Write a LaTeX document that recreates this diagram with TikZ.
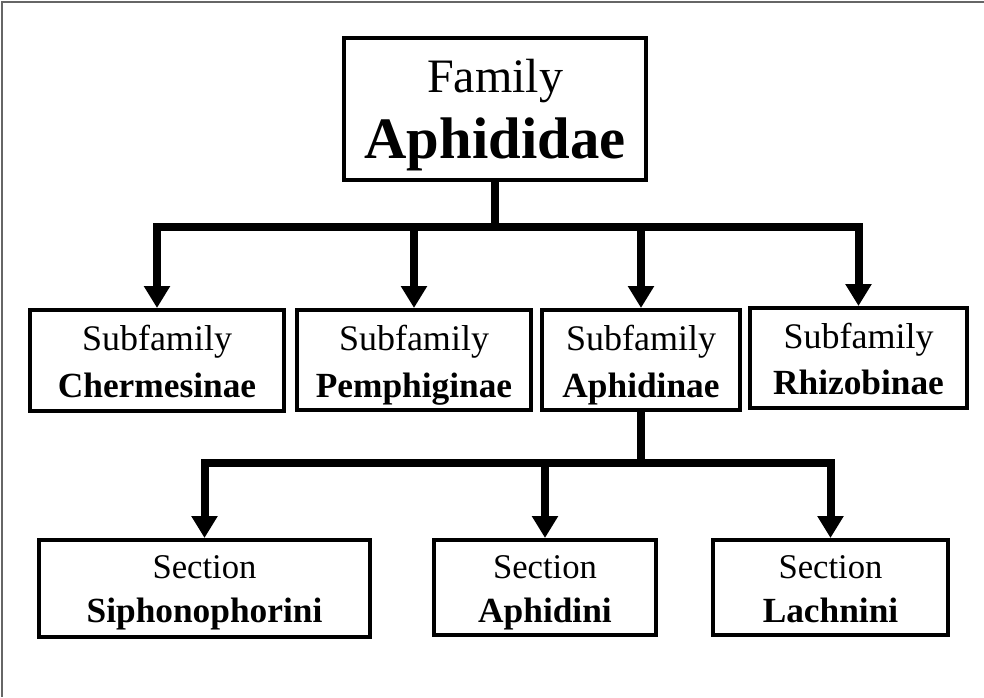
\documentclass[tikz,border=0pt]{standalone}
\usepackage{fontspec}
\setmainfont{Liberation Serif}
\usetikzlibrary{arrows.meta}
\begin{document}
\begin{tikzpicture}[x=0.75pt,y=-0.75pt,
  frame/.style={draw=black!60, line width=1.1pt},
  box/.style={draw, rectangle, line width=3pt, inner sep=0pt},
  wh/.style 2 args={minimum width={#1*0.75pt}, minimum height={#2*0.75pt}},
  conn/.style={line width=6pt, line join=miter},
  head/.tip={Triangle[width=18.75pt,length=16.5pt]},
  txt/.style={anchor=base, inner sep=0pt},
  famfont/.style={txt, font=\fontsize{36}{40}\selectfont},
  fambold/.style={txt, font=\fontsize{44}{50}\selectfont\bfseries},
  subfont/.style={txt, font=\fontsize{27}{32}\selectfont},
  subbold/.style={txt, font=\fontsize{26.5}{32}\selectfont\bfseries},
  secfont/.style={txt, font=\fontsize{26}{31}\selectfont},
  secbold/.style={txt, font=\fontsize{26.5}{31}\selectfont\bfseries}]
\useasboundingbox (0,0) rectangle (984,697);
% thin outer frame (top and left edges only)
\draw[frame] (984,2) -- (2,2) -- (2,697);

% family
\node[box, wh={302}{142}] (fam) at (495,109) {};
\node[famfont] (famA) at (495,92) {Family};
\node[fambold] (famB) at (495,158) {Aphididae};

% subfamilies
\node[box, wh={254}{101}] (cher) at (157,360.5) {};
\node[box, wh={234}{100}] (pemp) at (414,360) {};
\node[box, wh={198}{100}] (aphn) at (641,360) {};
\node[box, wh={217}{100}] (rhiz) at (858.5,358) {};
\node[subfont] (cherA) at (157,350) {Subfamily};
\node[subbold] (cherB) at (157,397) {Chermesinae};
\node[subfont] (pempA) at (414,350) {Subfamily};
\node[subbold] (pempB) at (414,397) {Pemphiginae};
\node[subfont] (aphnA) at (641,350) {Subfamily};
\node[subbold] (aphnB) at (641,397) {Aphidinae};
\node[subfont] (rhizA) at (858.5,348) {Subfamily};
\node[subbold] (rhizB) at (858.5,394) {Rhizobinae};

% sections
\node[box, wh={331}{97}] (siph) at (204.5,588.5) {};
\node[box, wh={222}{95}] (aphi) at (545,587.5) {};
\node[box, wh={235}{95}] (lach) at (830.5,587.5) {};
\node[secfont] (siphA) at (204.5,578) {Section};
\node[secbold] (siphB) at (204.5,622) {Siphonophorini};
\node[secfont] (aphiA) at (545,578) {Section};
\node[secbold] (aphiB) at (545,622) {Aphidini};
\node[secfont] (lachA) at (830.5,578) {Section};
\node[secbold] (lachB) at (830.5,622) {Lachnini};

% family -> subfamilies
\coordinate (j1) at (495,226.5);
\draw[conn] (fam.south) -- (j1);
\draw[conn, head-head] (cher.north) -- (cher.north |- j1) -- (rhiz.north |- j1) -- (rhiz.north);
\draw[conn, -head] (pemp.north |- j1) -- (pemp.north);
\draw[conn, -head] (aphn.north |- j1) -- (aphn.north);

% Aphidinae -> sections
\coordinate (j2) at (641,463);
\draw[conn] (aphn.south) -- (j2);
\draw[conn, head-head] (siph.north) -- (siph.north |- j2) -- (lach.north |- j2) -- (lach.north);
\draw[conn, -head] (aphi.north |- j2) -- (aphi.north);
\end{tikzpicture}
\end{document}
